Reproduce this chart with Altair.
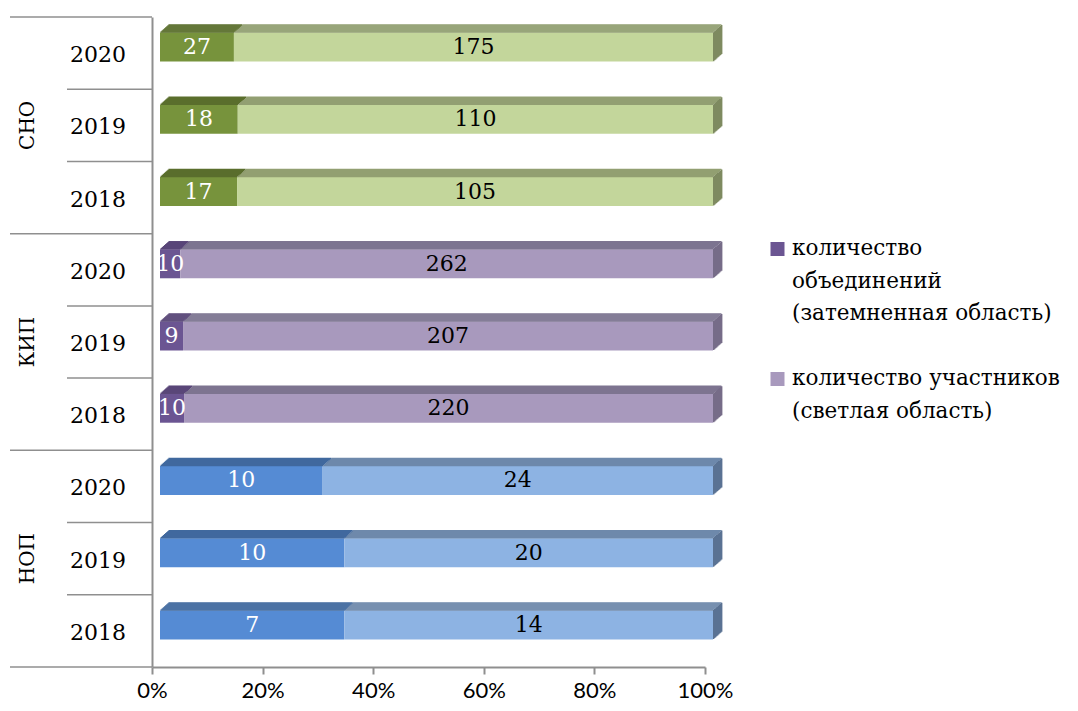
import altair as alt
import pandas as pd

# ---------------- data ----------------
groups = ["СНО", "СНО", "СНО", "КИП", "КИП", "КИП", "НОП", "НОП", "НОП"]
years = ["2020", "2019", "2018", "2020", "2019", "2018", "2020", "2019", "2018"]
unions = [27, 18, 17, 10, 9, 10, 10, 10, 7]            # количество объединений
participants = [175, 110, 105, 262, 207, 220, 24, 20, 14]  # количество участников
tick_values = [0, 0.2, 0.4, 0.6, 0.8, 1.0]
legend_keys = ["КИП|dark|f", "КИП|light|f"]
legend_labels = [
    ["количество", "объединений", "(затемненная область)"],
    ["количество участников", "(светлая область)"],
]

rows = [f"{g} {y}" for g, y in zip(groups, years)]
records = []
for r, g, y, u, p in zip(rows, groups, years, unions, participants):
    records.append(dict(row=r, group=g, year=y, series="dark", order=0, value=u))
    records.append(dict(row=r, group=g, year=y, series="light", order=1, value=p))
df = pd.DataFrame(records)
df_rows = pd.DataFrame(dict(row=rows, group=groups, year=years))

# ---------------- styles ----------------
W, H = 553, 650
STEP = H / 9
GRAY = "#8F8F8F"
SERIF = "DejaVu Serif"

colors = {
    "СНО|dark|f": "#77933C", "СНО|light|f": "#C3D69B",
    "СНО|dark|t": "#5A6E2C", "СНО|light|t": "#929F72", "СНО|light|e": "#7E8A60",
    "КИП|dark|f": "#6B5592", "КИП|light|f": "#A899BD",
    "КИП|dark|t": "#574476", "КИП|light|t": "#7D7490", "КИП|light|e": "#766C88",
    "НОП|dark|f": "#558BD4", "НОП|light|f": "#8DB3E3",
    "НОП|dark|t": "#40699E", "НОП|light|t": "#6E89AB", "НОП|light|e": "#5A7293",
}
cscale = alt.Scale(domain=list(colors.keys()), range=list(colors.values()))
xscale = alt.Scale(domain=[0, 1], nice=False, zero=True)
yscale = alt.Scale(domain=rows, paddingInner=0, paddingOuter=0)
xaxis = alt.Axis(values=tick_values, format="%", title=None, grid=False, labelFlush=False)
yaxis = alt.Axis(title=None, labels=False, ticks=False, grid=False)


def X(f):
    return alt.X(f, type="quantitative", scale=xscale, axis=xaxis)


def Y():
    return alt.Y("row:N", scale=yscale, axis=yaxis)


def C(f):
    return alt.Color(f, type="nominal", scale=cscale, legend=None)


base = (
    alt.Chart(df)
    .transform_joinaggregate(total="sum(value)", groupby=["row"])
    .transform_window(cum="sum(value)", groupby=["row"],
                      sort=[alt.SortField("order", order="ascending")], frame=[None, 0])
    .transform_calculate(
        x0="(datum.cum - datum.value) / datum.total",
        x1="datum.cum / datum.total",
        xm="(datum.cum - datum.value / 2) / datum.total",
        kf="datum.group + '|' + datum.series + '|f'",
        kt="datum.group + '|' + datum.series + '|t'",
        ke="datum.group + '|' + datum.series + '|e'",
    )
)

layers = []

# front faces
layers.append(
    base.mark_bar(size=29, yOffset=-6, y2Offset=-6, xOffset=8, x2Offset=8)
    .encode(y=Y(), x=X("x0"), x2="x1:Q", color=C("kf"))
)

# top faces (slanted, built from thin strips)
DEPTH_X, DEPTH_Y = 9, 8
for k in range(DEPTH_Y):
    sh = (k + 0.5) * DEPTH_X / DEPTH_Y
    layers.append(
        base.mark_bar(size=1.5, yOffset=-21 - k, y2Offset=-21 - k,
                      xOffset=8 + sh, x2Offset=8 + sh)
        .encode(y=Y(), x=X("x0"), x2="x1:Q", color=C("kt"))
    )

# right end faces
for k in range(DEPTH_X):
    sy = (k + 0.5) * DEPTH_Y / DEPTH_X
    layers.append(
        base.transform_filter("datum.series == 'light'")
        .mark_bar(size=29, yOffset=-6 - sy, y2Offset=-6 - sy,
                  xOffset=8 + k, x2Offset=8 + k + 1.4)
        .encode(y=Y(), x=X("x1"), x2="x1:Q", color=C("ke"))
    )

# value labels
layers.append(
    base.mark_text(font=SERIF, fontSize=22, baseline="middle", align="center",
                   xOffset=8, yOffset=-6)
    .encode(
        y=Y(), x=X("xm"), text="value:Q",
        color=alt.condition(alt.datum.series == "dark", alt.value("white"), alt.value("black")),
    )
)

# year labels
layers.append(
    alt.Chart(df_rows).mark_text(font=SERIF, fontSize=22, align="center",
                                 baseline="middle", yOffset=2, color="black")
    .encode(y=Y(), x=alt.value(-54), text="year:N")
)

# group labels (rotated)
layers.append(
    alt.Chart(df_rows).transform_filter("datum.year == '2019'")
    .mark_text(font=SERIF, fontSize=20, align="center", baseline="middle",
               angle=270, color="black")
    .encode(y=Y(), x=alt.value(-124), text="group:N")
)

# separators between years
layers.append(
    alt.Chart(df_rows).transform_filter("datum.year != '2018'")
    .mark_rule(color=GRAY, strokeWidth=1.5, yOffset=STEP / 2)
    .encode(y=Y(), x=alt.value(-85), x2=alt.value(0))
)
# separators between groups
layers.append(
    alt.Chart(df_rows).transform_filter("datum.year == '2018'")
    .mark_rule(color=GRAY, strokeWidth=1.5, yOffset=STEP / 2)
    .encode(y=Y(), x=alt.value(-142), x2=alt.value(0))
)
layers.append(
    alt.Chart(df_rows).transform_filter(alt.datum.row == rows[0])
    .mark_rule(color=GRAY, strokeWidth=1.5, yOffset=-STEP / 2)
    .encode(y=Y(), x=alt.value(-142), x2=alt.value(0))
)

# legend
leg_sq_y = [232, 362]
leg_tx_y = [221, 351]
for key, lines, sy, ty in zip(legend_keys, legend_labels, leg_sq_y, leg_tx_y):
    layers.append(
        alt.Chart(pd.DataFrame({"key": [key]}))
        .mark_square(size=196, filled=True, opacity=1)
        .encode(x=alt.value(625.5), y=alt.value(sy), color=C("key"))
    )
    layers.append(
        alt.Chart(pd.DataFrame({"t": [lines]}))
        .mark_text(font=SERIF, fontSize=21.5, align="left", baseline="top",
                   lineHeight=32.5, color="black")
        .encode(x=alt.value(640), y=alt.value(ty), text="t")
    )

chart = (
    alt.layer(*layers)
    .properties(
        width=W, height=H,
        autosize=alt.AutoSizeParams(type="none"),
        padding={"left": 144, "top": 9, "right": 364, "bottom": 36},
    )
    .configure_view(stroke=None)
    .configure_axisX(
        labelFont="Lato", labelFontSize=22, labelColor="black",
        domainColor=GRAY, domainWidth=2, tickColor=GRAY, tickWidth=2,
        tickSize=7, labelPadding=6, labelFlush=False,
    )
    .configure_axisY(domainColor=GRAY, domainWidth=2)
)

chart.save("out.html", embed_options={"renderer": "svg", "actions": False})
